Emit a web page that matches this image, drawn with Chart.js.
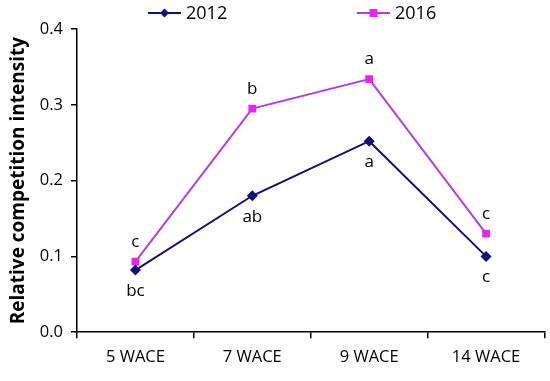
<!DOCTYPE html>
<html>
<head>
  <title>Relative competition intensity</title>
<script src="https://cdn.jsdelivr.net/npm/chart.js"></script>
<style>
  html, body { margin: 0; padding: 0; background: #fff; }
  #wrap { width: 550px; height: 381px; }
</style>
</head>
<body>
<div id="wrap">
  <canvas id="myChart"></canvas>
</div>
<script>
const stages = ['5 WACE', '7 WACE', '9 WACE', '14 WACE'];
const rci2012 = [0.082, 0.180, 0.252, 0.100];
const rci2016 = [0.093, 0.295, 0.334, 0.130];
const letters2012 = ['bc', 'ab', 'a', 'c'];
const letters2016 = ['c', 'b', 'a', 'c'];
const yTicks = [0, 0.1, 0.2, 0.3, 0.4];

const FONT = "'Open Sans', 'Liberation Sans', sans-serif";

// letters above the 2016 points and below the 2012 points
const letterPlugin = {
  id: 'letters',
  afterDatasetsDraw(chart) {
    const ctx = chart.ctx;
    ctx.save();
    ctx.font = '17px ' + FONT;
    ctx.fillStyle = '#000';
    ctx.textAlign = 'center';
    ctx.textBaseline = 'alphabetic';
    chart.getDatasetMeta(1).data.forEach((p, i) => {
      ctx.fillText(letters2016[i], p.x, p.y - 15);
    });
    chart.getDatasetMeta(0).data.forEach((p, i) => {
      ctx.fillText(letters2012[i], p.x, p.y + 26);
    });
    ctx.restore();
  }
};

// legend drawn as line + marker like the original
const legendPlugin = {
  id: 'topLegend',
  afterDraw(chart) {
    const ctx = chart.ctx;
    const items = [
      {x: 148, label: '2012', ds: chart.data.datasets[0]},
      {x: 357, label: '2016', ds: chart.data.datasets[1]}
    ];
    ctx.save();
    items.forEach(it => {
      const y = 13;
      ctx.strokeStyle = it.ds.borderColor;
      ctx.lineWidth = 2;
      ctx.beginPath();
      ctx.moveTo(it.x, y);
      ctx.lineTo(it.x + 33, y);
      ctx.stroke();
      const cx = it.x + 16.5;
      ctx.fillStyle = it.ds.pointBackgroundColor;
      ctx.beginPath();
      if (it.ds.pointStyle === 'rectRot') {
        ctx.moveTo(cx, y - 4.5); ctx.lineTo(cx + 4.5, y);
        ctx.lineTo(cx, y + 4.5); ctx.lineTo(cx - 4.5, y);
      } else {
        ctx.rect(cx - 4, y - 4, 8, 8);
      }
      ctx.closePath();
      ctx.fill();
      ctx.fillStyle = '#000';
      ctx.font = '18px ' + FONT;
      ctx.textBaseline = 'middle';
      ctx.textAlign = 'left';
      ctx.fillText(it.label, it.x + 38, y + 1);
    });
    ctx.restore();
  }
};

const config = {
  type: 'line',
  data: {
    labels: stages,
    datasets: [
      {
        label: '2012',
        data: rci2012,
        borderColor: '#10107a',
        borderWidth: 2,
        pointStyle: 'rectRot',
        pointRadius: 5.5,
        pointBackgroundColor: '#10107a',
        pointBorderColor: '#10107a',
        pointBorderWidth: 0,
        tension: 0
      },
      {
        label: '2016',
        data: rci2016,
        borderColor: '#b040e0',
        borderWidth: 2,
        pointStyle: 'rect',
        pointRadius: 5.5,
        pointBackgroundColor: '#ee22ee',
        pointBorderColor: '#ee22ee',
        pointBorderWidth: 0,
        tension: 0
      }
    ]
  },
  options: {
    responsive: true,
    maintainAspectRatio: false,
    animation: false,
    layout: { padding: { top: 29, right: 5, left: 7, bottom: 5 } },
    plugins: {
      legend: { display: false },
      tooltip: { enabled: false }
    },
    scales: {
      x: {
        offset: true,
        grid: {
          offset: true,
          drawOnChartArea: false,
          drawTicks: true,
          tickLength: 6,
          color: '#000',
          lineWidth: 1.5
        },
        border: { color: '#000', width: 1.5 },
        ticks: {
          color: '#000',
          font: { family: FONT, size: 16.5 },
          padding: 9,
          maxRotation: 0
        }
      },
      y: {
        min: 0,
        max: 0.4,
        afterBuildTicks(scale) {
          scale.ticks = yTicks.map(v => ({value: v}));
        },
        grid: {
          drawOnChartArea: false,
          drawTicks: true,
          tickLength: 6,
          color: '#000',
          lineWidth: 1.5
        },
        border: { color: '#000', width: 1.5 },
        ticks: {
          color: '#000',
          font: { family: FONT, size: 16.5 },
          padding: 8,
          callback: v => Number(v).toFixed(1)
        },
        title: {
          display: true,
          text: 'Relative competition intensity',
          color: '#000',
          font: { family: FONT, size: 19, weight: 'bold' },
          padding: { top: 0, bottom: 2 }
        }
      }
    }
  },
  plugins: [letterPlugin, legendPlugin]
};

const myChart = new Chart(document.getElementById('myChart'), config);
</script>
</body>
</html>
